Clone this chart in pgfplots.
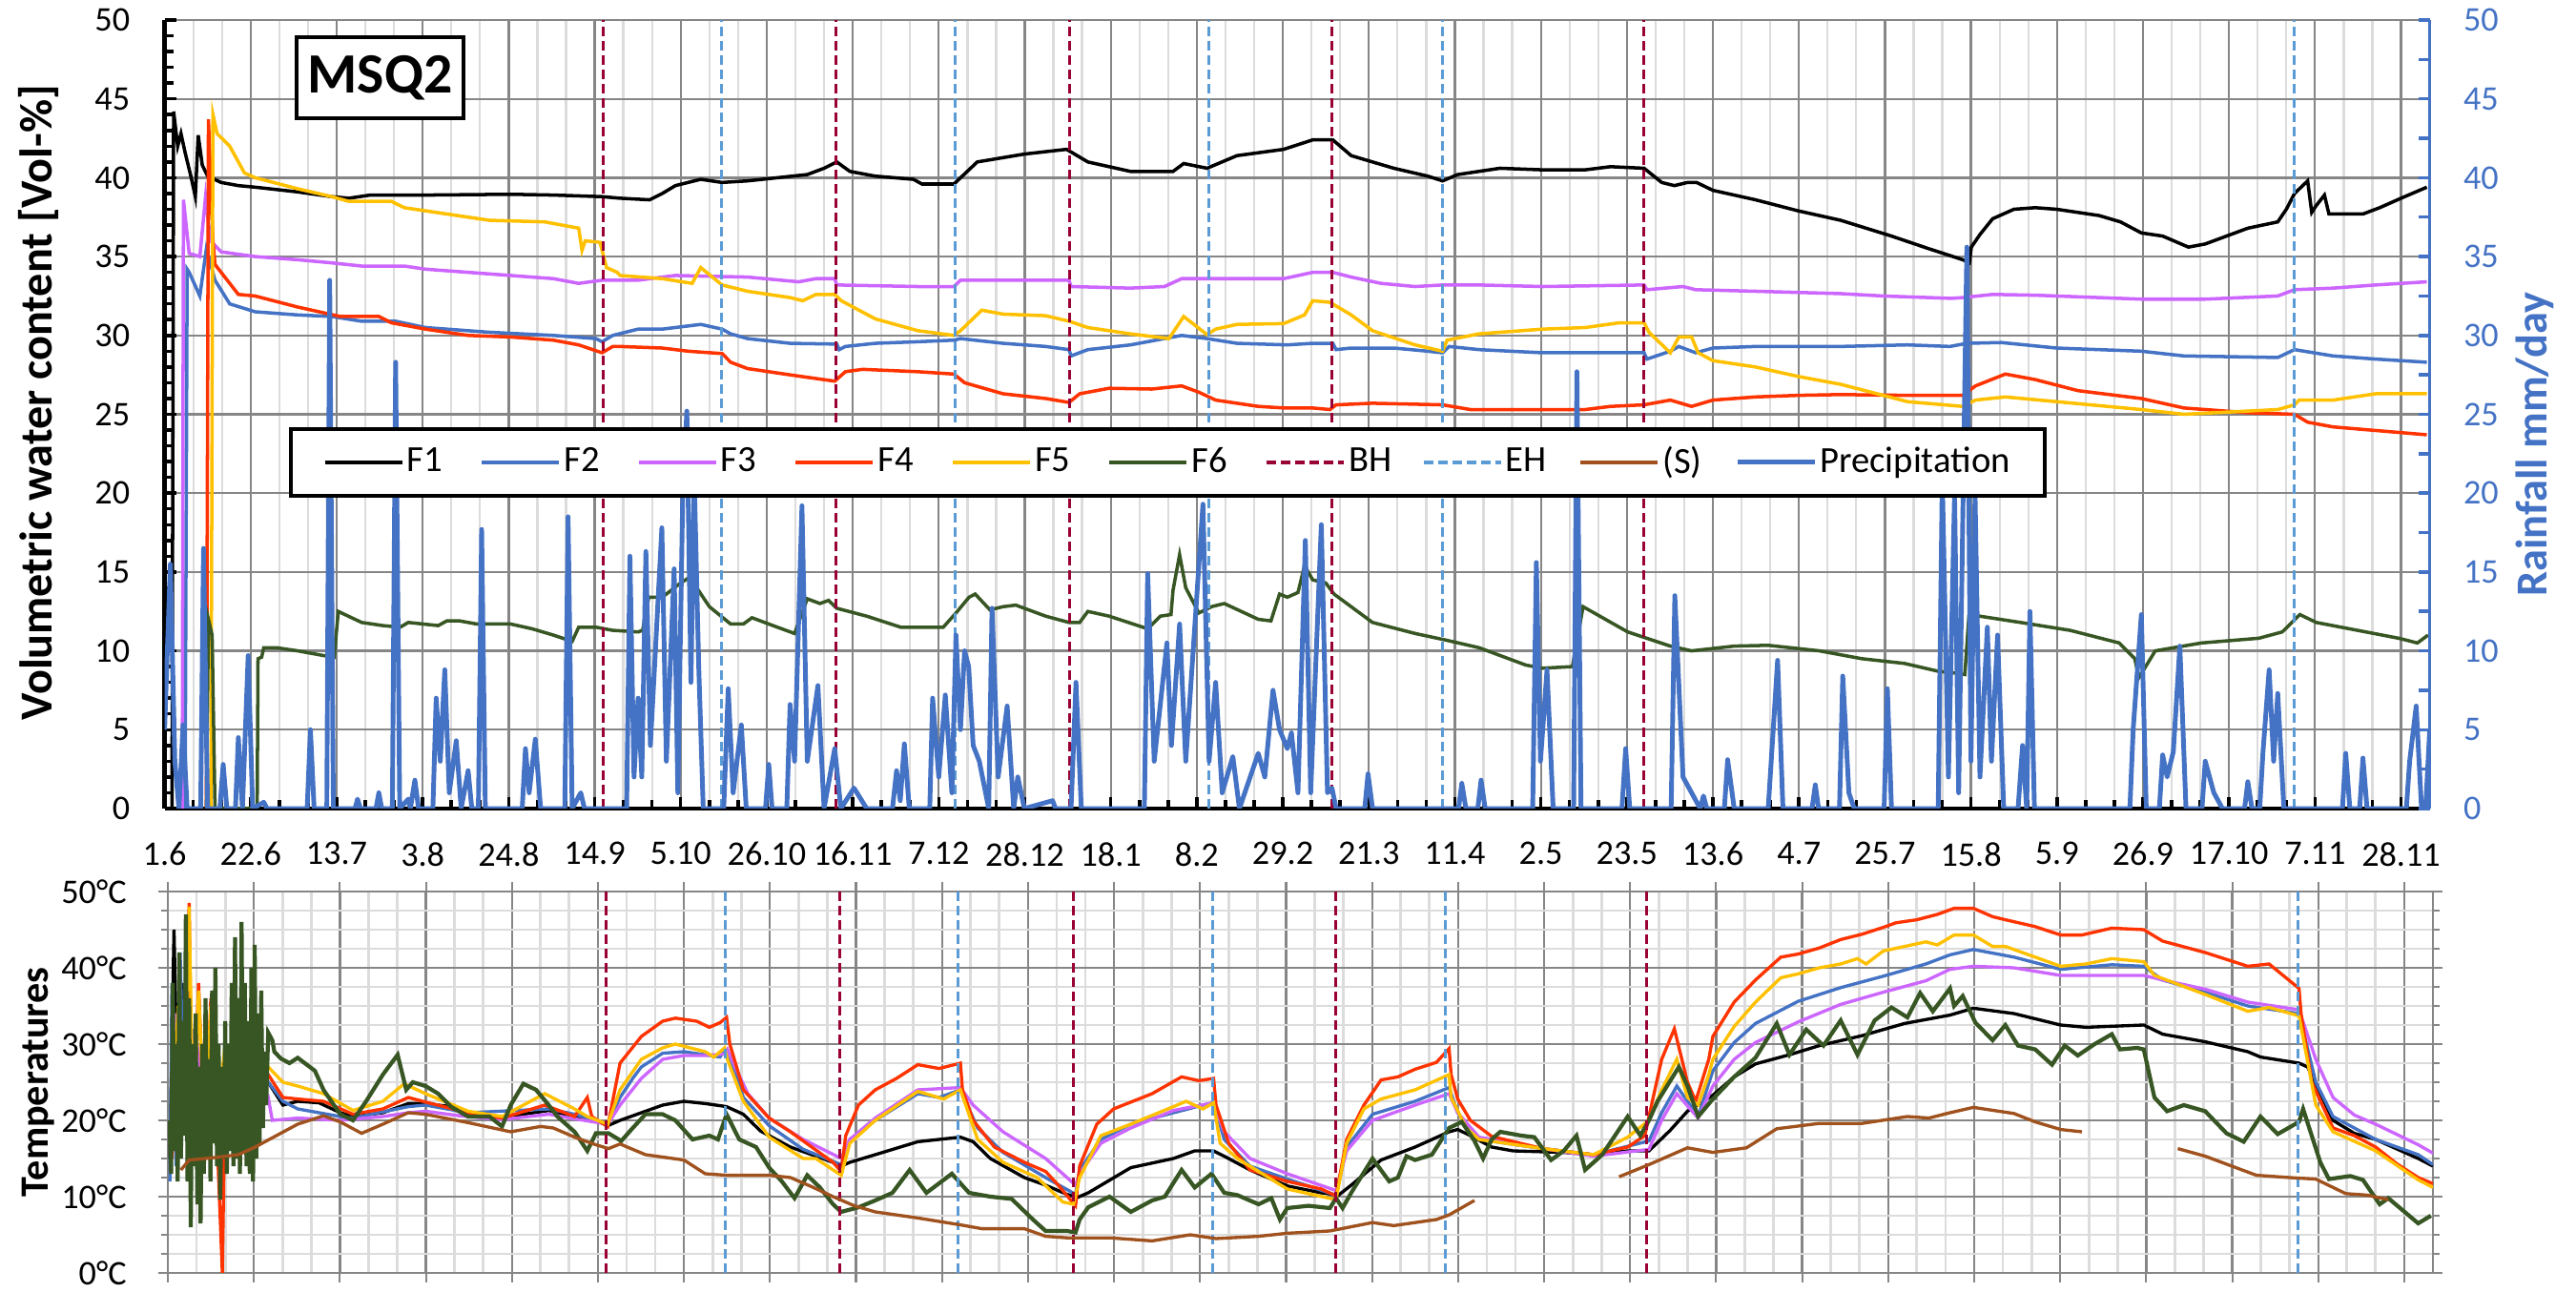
\documentclass[border=0pt]{standalone}
\usepackage{pgfplots}
\pgfplotsset{compat=1.18}
\usepackage{fontspec}
\setmainfont{Carlito}
\definecolor{cFb}{HTML}{4472C4}
\definecolor{cFc}{HTML}{CC66FF}
\definecolor{cFd}{HTML}{FF3300}
\definecolor{cFe}{HTML}{FFC000}
\definecolor{cFf}{HTML}{375623}
\definecolor{cBH}{HTML}{990033}
\definecolor{cEH}{HTML}{5B9BD5}
\definecolor{cS}{HTML}{A0521E}
\definecolor{gmaj}{HTML}{868686}
\definecolor{gmin}{HTML}{DCDCDC}
\tikzset{
 bhstyle/.style={cBH, line width=0.85pt, dash pattern=on 1mm off 0.5mm},
 ehstyle/.style={cEH, line width=0.85pt, dash pattern=on 1mm off 0.5mm},
}
\pgfplotsset{
 dayaxis/.style={scale only axis, anchor=south west, width=237.5mm, xmin=0, xmax=553, ymin=0, ymax=50,
   xtick={0,21,...,546}, minor x tick num=2, unbounded coords=jump,
   /pgf/number format/assume math mode=true,
   tick label style={font=\fontsize{10.3}{12}\selectfont}},
}
\begin{document}
\begin{tikzpicture}
\useasboundingbox (0,0) rectangle (270.1mm,135.5mm);
% ---------------- top panel (water content) ----------------
\begin{axis}[dayaxis, at={(17.26mm,50.7mm)}, height=82.7mm,
  axis x line*=bottom, axis y line*=left,
  axis line style={black, line width=1.3pt},
  xticklabels={1.6,22.6,13.7,3.8,24.8,14.9,5.10,26.10,16.11,7.12,28.12,18.1,8.2,29.2,21.3,11.4,2.5,23.5,13.6,4.7,25.7,15.8,5.9,26.9,17.10,7.11,28.11},
  xticklabel style={yshift=-2.3mm},
  ytick={0,5,...,50}, minor y tick num=4, yticklabel style={xshift=-2.4mm},
  xmajorgrids, xminorgrids, ymajorgrids,
  major grid style={gmaj, line width=0.65pt}, minor grid style={gmin, line width=0.65pt},
  tick align=inside, major tick length=1.2mm, minor tick length=0.9mm,
  tick style={black, line width=1pt},
]
\addplot[black, line width=1pt] coordinates {(1.8,0) (2.2,44.2) (3.2,42) (4,42.8) (5,41.6) (6.5,40) (7.5,38.8) (8.2,42.7) (9.2,40.8) (10.5,40.1) (13.8,39.7) (18,39.5) (22.1,39.4) (32.5,39.1) (40.8,38.8) (45,38.7) (50.2,38.9) (63.7,38.9) (84.5,38.95) (94.9,38.9) (106.8,38.8) (111.2,38.7) (118.4,38.6) (121.5,39) (124.7,39.5) (130.9,39.9) (136.1,39.7) (142.3,39.8) (156.9,40.2) (161,40.6) (164.1,41) (167.3,40.4) (173.5,40.1) (182.8,39.9) (184.9,39.6) (192.7,39.6) (198.4,41) (209.9,41.5) (220.2,41.8) (225.4,41) (235.8,40.4) (246.2,40.4) (248.8,40.9) (254.5,40.6) (261.8,41.4) (273.2,41.8) (280.3,42.4) (285.2,42.4) (289.7,41.4) (300.1,40.6) (308.4,40.1) (312,39.8) (315.7,40.2) (326,40.6) (336.4,40.5) (346.8,40.5) (353,40.7) (361.2,40.6) (365.5,39.7) (368.6,39.5) (371.8,39.7) (374,39.7) (378,39.2) (388.4,38.6) (398.8,37.9) (409.2,37.3) (421.6,36.3) (430.7,35.5) (439,34.8) (440.6,34.6) (441.1,35.6) (443.2,36.4) (446.3,37.4) (451.5,38) (456.7,38.1) (461.9,38) (472.3,37.6) (477.5,37.2) (482.6,36.5) (487.8,36.3) (494.1,35.6) (498.2,35.8) (508.6,36.8) (515.9,37.2) (518,38) (520,39) (523.2,39.8) (524.2,37.8) (525.2,38.2) (527.3,38.9) (528.4,37.7) (536.7,37.7) (540.8,38.1) (546,38.7) (552.3,39.4)};
\addplot[cFb, line width=1pt] coordinates {(5,0) (5.5,34.2) (6,34) (8.6,32.5) (10.2,35.5) (12.3,33.5) (15.9,32) (22.1,31.5) (32.5,31.3) (40.8,31.2) (48.1,30.9) (56.4,30.9) (63.7,30.5) (79.3,30.2) (94.9,30) (105.3,29.8) (106.8,29.6) (109.4,30) (115.6,30.4) (121.5,30.4) (127.8,30.6) (130.9,30.7) (136.1,30.4) (138.2,30.1) (142.3,29.8) (152.7,29.5) (164.1,29.45) (164.7,29.1) (166.2,29.3) (173.5,29.5) (183.9,29.6) (192.7,29.7) (194.3,29.8) (204.7,29.5) (215.1,29.3) (220.8,29.1) (221.3,28.7) (225.4,29.1) (235.8,29.4) (244.1,29.8) (248.3,30) (254.5,29.8) (261.8,29.5) (274.1,29.4) (280.3,29.5) (285.2,29.5) (286,29.1) (289.7,29.2) (300.1,29.2) (308.4,29) (312,28.9) (313.6,29.3) (320.9,29.1) (336.4,28.9) (346.8,28.9) (361.2,28.9) (361.9,28.5) (367.6,29) (369.7,29.3) (373.8,28.9) (378,29.2) (388.4,29.3) (409.2,29.3) (425.5,29.4) (435.9,29.3) (440,29.5) (448.4,29.55) (461.9,29.2) (482.6,29) (493,28.7) (515.9,28.6) (520,29.1) (529.4,28.7) (539.8,28.5) (552.3,28.3)};
\addplot[cFc, line width=1pt] coordinates {(4.3,0) (4.6,38.6) (6,35.2) (8.6,35) (10,38.8) (11.2,36) (13.8,35.3) (22.1,35) (32.5,34.8) (40.8,34.6) (48.1,34.4) (58.5,34.4) (63.7,34.2) (79.3,33.9) (94.9,33.6) (101.1,33.3) (106.8,33.5) (115.6,33.5) (121.5,33.7) (124.7,33.8) (142.3,33.7) (154.8,33.4) (159,33.6) (163.6,33.6) (164.1,33.2) (183.9,33.1) (192.7,33.1) (194.3,33.5) (220.8,33.5) (221.3,33.1) (235.8,33) (244.1,33.1) (248.3,33.6) (273.2,33.6) (280.3,34) (285.2,34) (289.7,33.7) (297,33.3) (305.3,33.1) (312,33.2) (320.9,33.2) (336.4,33.1) (361.2,33.2) (361.9,32.9) (370.7,33.1) (373.8,32.9) (388.4,32.8) (409.2,32.65) (419.6,32.5) (436.2,32.35) (439,32.4) (446.3,32.6) (456.7,32.55) (482.6,32.3) (498.2,32.3) (515.9,32.5) (520,32.9) (529.4,33) (539.8,33.2) (552.3,33.4)};
\addplot[cFd, line width=1pt] coordinates {(10.2,0) (10.7,43.7) (11.8,36) (12.3,34.5) (15.9,33.3) (18,32.6) (22.1,32.5) (32.5,31.8) (42.9,31.2) (52.3,31.2) (55.4,30.8) (63.7,30.4) (74.1,30) (84.5,29.9) (94.9,29.7) (101.1,29.4) (106.8,28.9) (109.4,29.3) (111.2,29.3) (121.5,29.2) (127.8,29) (136.1,28.85) (138.2,28.3) (142.3,27.9) (152.7,27.5) (163.6,27.1) (166.2,27.7) (170.4,27.85) (183.9,27.7) (192.7,27.55) (195.3,27) (204.7,26.3) (215.1,26) (220.8,25.75) (223.4,26.3) (230.6,26.65) (241,26.6) (248.3,26.8) (252.5,26.4) (256.6,25.9) (267,25.5) (273.2,25.4) (280.3,25.4) (284.5,25.3) (286,25.6) (294.9,25.7) (312,25.6) (318.8,25.3) (336.4,25.3) (346.8,25.3) (353,25.5) (361.2,25.6) (367.6,25.9) (372.8,25.5) (378,25.9) (388.4,26.1) (398.8,26.2) (409.2,26.25) (425.5,26.2) (439,26.2) (442.1,26.8) (449.4,27.55) (456.7,27.2) (467.1,26.5) (482.6,26) (493,25.4) (508.6,25.1) (520,25) (523.2,24.5) (529.4,24.2) (552.3,23.7)};
\addplot[cFe, line width=1pt] coordinates {(11.3,0) (11.8,44) (12.8,42.8) (15.9,42) (19.5,40.3) (22.1,40) (32.5,39.3) (40.8,38.8) (45,38.5) (55.4,38.5) (58.5,38.1) (68.9,37.7) (79.3,37.3) (92.8,37.2) (101.1,36.8) (101.9,35.4) (102.7,36) (106.3,35.9) (107.9,34.3) (110.5,34) (111.2,33.8) (121.5,33.6) (128.8,33.3) (130.9,34.3) (136.1,33.2) (142.3,32.8) (152.7,32.4) (155.8,32.2) (159,32.6) (163.6,32.6) (165.2,32.2) (173.5,31.05) (183.9,30.3) (192.7,30) (194.3,30.3) (199.5,31.6) (204.7,31.35) (215.1,31.25) (220.8,30.9) (225.4,30.5) (235.8,30.1) (245.2,29.8) (248.8,31.2) (254.5,30.05) (256.6,30.4) (261.8,30.7) (273.2,30.75) (278.3,31.3) (280.3,32.2) (284.5,32.1) (289.7,31.3) (294.9,30.3) (305.3,29.4) (312,29) (313.1,29.7) (320.9,30.1) (336.4,30.4) (346.8,30.5) (355.1,30.8) (361.2,30.8) (362.4,30.2) (367.6,28.9) (369.7,29.9) (372.8,29.9) (374.4,28.9) (378,28.4) (388.4,28) (398.8,27.4) (409.2,26.9) (419.6,26.2) (425.5,25.8) (439,25.5) (442.1,25.9) (449.4,26.1) (461.9,25.8) (482.6,25.3) (493,25) (515.9,25.3) (520,25.6) (521.1,25.9) (529.4,25.9) (539.8,26.3) (552.3,26.3)};
\addplot[cFf, line width=1pt] coordinates {(10.2,0) (10.7,12) (11.6,11) (12.3,0) (22.6,0) (22.8,9.5) (23.7,9.6) (24.2,10.2) (27.3,10.2) (32.5,10) (38.8,9.7) (41.4,9.6) (42.4,12.5) (48.1,11.8) (53.3,11.6) (57.5,11.5) (59.5,11.8) (66.8,11.6) (68.9,11.9) (72,11.9) (76.2,11.7) (84.5,11.7) (89.7,11.4) (94.9,11) (99.5,10.6) (101.1,11.5) (105.3,11.5) (109.4,11.3) (115.6,11.2) (116.7,11.3) (118.2,13.4) (121.5,13.4) (125.7,14.25) (129.3,14.85) (129.9,14) (133,12.8) (138.2,11.7) (141.3,11.7) (143.4,12.1) (147.5,11.7) (153.8,11.1) (156.9,13.3) (160,13) (162.1,13.2) (164.1,12.7) (171.4,12.2) (179.7,11.5) (190.1,11.5) (193.2,12.4) (196.4,13.4) (197.9,13.6) (201.5,12.6) (204.7,12.8) (207.8,12.9) (215.1,12.2) (220.8,11.8) (223.4,11.8) (225.4,12.5) (230.6,12.2) (240,11.4) (243.1,12.2) (245.7,12.3) (246.2,13.85) (247.8,16.1) (249.3,14) (252.5,12.4) (255.6,12.8) (258.7,13) (267,12) (270.1,11.9) (272.2,13.6) (274.1,13.4) (276.7,13.7) (278.3,15.4) (280.3,14.5) (283.5,14.3) (285.5,13.6) (294.9,11.8) (305.3,11.1) (312.5,10.7) (320.9,10.2) (332.3,9.1) (336.4,8.9) (343.7,9) (346.3,12.8) (357.2,11.2) (367.6,10.3) (372.8,10) (383.2,10.3) (391.5,10.35) (404,10) (414.4,9.5) (424.8,9.2) (433.1,8.7) (437,8.6) (439.5,8.5) (440.5,12.2) (443.1,12.2) (453.1,11.8) (465.2,11.3) (477.2,10.5) (481,9.5) (482,8.3) (486,10) (497.3,10.5) (511.3,10.8) (517,11.2) (521.3,12.3) (525.3,11.8) (537.4,11.2) (545.4,10.8) (550,10.5) (552.6,11)};
\addplot[bhstyle] coordinates {(107,0)(107,50)(107,nan)(164,0)(164,50)(164,nan)(221,0)(221,50)(221,nan)(285,0)(285,50)(285,nan)(361,0)(361,50)};
\addplot[ehstyle] coordinates {(136,0)(136,50)(136,nan)(193,0)(193,50)(193,nan)(255,0)(255,50)(255,nan)(312,0)(312,50)(312,nan)(520,0)(520,50)};
\end{axis}
% ---------------- right axis: precipitation + legend ----------------
\begin{axis}[dayaxis, at={(17.26mm,50.7mm)}, height=82.7mm,
  axis x line=none, axis y line*=right,
  axis line style={cFb, line width=1pt},
  ytick={0,5,...,50}, minor y tick num=1,
  yticklabel style={cFb, xshift=2.3mm},
  tick align=inside, major tick length=1.2mm, minor tick length=1.2mm,
  tick style={cFb, line width=1pt},
  legend columns=10,
  legend image code/.code={\draw[#1] (0mm,0mm) -- (8.1mm,0mm);},
  legend style={at={(0.4429,0.439)}, anchor=center, draw=black, line width=1.1pt, fill=white,
    font=\fontsize{11}{12}\selectfont, inner xsep=3.3mm, inner ysep=1.5mm,
    nodes={inner sep=0.3mm}},
]
\addlegendimage{black, line width=1.3pt}\addlegendentry{\makebox[7.3mm][l]{F1}}
\addlegendimage{cFb, line width=1.3pt}\addlegendentry{\makebox[7.3mm][l]{F2}}
\addlegendimage{cFc, line width=1.3pt}\addlegendentry{\makebox[7.3mm][l]{F3}}
\addlegendimage{cFd, line width=1.3pt}\addlegendentry{\makebox[7.3mm][l]{F4}}
\addlegendimage{cFe, line width=1.3pt}\addlegendentry{\makebox[7.3mm][l]{F5}}
\addlegendimage{cFf, line width=1.3pt}\addlegendentry{\makebox[7.3mm][l]{F6}}
\addlegendimage{cBH, line width=1.3pt, dash pattern=on 1mm off 0.5mm}\addlegendentry{\makebox[7.3mm][l]{BH}}
\addlegendimage{cEH, line width=1.3pt, dash pattern=on 1mm off 0.5mm}\addlegendentry{\makebox[7.3mm][l]{EH}}
\addlegendimage{cS, line width=1.3pt}\addlegendentry{\makebox[7.3mm][l]{(S)}}
\addplot[cFb, line width=1.4pt, line join=round] coordinates {(0,5) (1.4,15.5) (2.5,3) (3.5,0) (4.5,5.3) (5.5,0) (8.8,0) (9.5,16.5) (10.5,0) (13.5,0) (14.3,2.8) (15.2,0) (17.3,0) (18,4.5) (19,0) (20.4,9.7) (21.5,0) (24.2,0.4) (25,0) (34.8,0) (35.6,5) (36.5,0) (39.6,0) (40.3,33.5) (41.2,0) (46.5,0) (47.1,0.6) (47.8,0) (51.6,0) (52.3,1) (53,0) (55.6,0) (56.4,28.3) (57.4,0) (59.5,0.6) (60,0) (61.1,1.8) (62,0) (65.5,0) (66.3,7) (67.3,3) (68.4,8.8) (69.5,1) (71.2,4.3) (72.4,0) (74.1,2.4) (75,0) (76.6,0) (77.4,17.7) (78.3,0) (87.3,0) (88.1,3.8) (89,1) (90.5,4.4) (91.8,0) (97.7,0) (98.5,18.5) (99.5,0) (101.6,1) (102.5,0) (112.8,0) (113.6,16) (114.6,2) (115.6,7) (116.5,2) (117.5,16.3) (118.6,4) (121.4,17.8) (122.5,3) (124.4,15.2) (125.3,1) (126.5,20) (127.5,25.2) (128.5,8) (129.3,21) (130.4,9) (131.5,0) (136.5,0) (137.6,7.6) (138.8,1) (140.8,5.3) (142,0) (146.7,0) (147.5,2.8) (148.3,0) (151.9,0) (152.7,6.6) (153.8,3) (155.6,19.2) (156.9,3) (159.5,7.8) (161,0) (163.6,3.8) (165.1,0) (168.3,1.3) (169.5,0.8) (171.4,0) (177.7,0) (178.7,2.4) (179.6,0.5) (180.6,4.1) (181.8,0) (186.8,0) (187.5,7) (189,2) (190.6,7.2) (192.2,1) (193.2,11) (194.3,5) (195.3,10) (196.3,9) (197.4,4) (198.9,3) (201.2,0) (202,12.7) (203.5,2) (205.7,6.5) (207.3,0) (208.3,2) (209.9,0) (216.8,0.5) (217.5,0) (221.3,0) (222.5,8) (223.8,0) (239.2,0) (240,14.9) (241.6,3) (244.7,10.5) (245.8,4) (247.8,11.7) (249.3,3) (253.5,19.3) (255,3) (256.6,8) (258.2,1) (260.8,3.3) (262.4,0) (267,3.5) (268.6,2) (270.6,7.5) (272.2,5) (274.1,3.8) (275.1,4.8) (276.7,1) (278.5,17) (279.8,1) (282.4,18) (283.9,1) (285,1.3) (286,0) (293,0) (293.8,2.2) (294.9,0) (315.9,0) (316.7,1.6) (317.7,0) (320.6,0) (321.4,1.8) (322.4,0) (334,0) (334.9,15.6) (335.9,3) (337.5,8.8) (339,0) (344,0) (344.8,27.7) (345.8,0) (355.8,0) (356.7,3.8) (357.7,0) (367.8,0) (368.7,13.5) (370.7,2) (374.9,0) (375.7,0.8) (376.5,0) (380.8,0) (381.6,3.1) (383.2,0) (391.5,0) (393.8,9.4) (395.1,0) (402.2,0) (403,1.5) (403.8,0) (408.9,0) (409.7,8.4) (411.2,1) (412.5,0) (419.8,0) (420.6,7.6) (421.6,0) (433,0) (434,21) (435.5,2) (437,20) (438,1) (440,35.6) (441,3) (442,20) (443.2,2) (445,11.5) (446,3) (447.5,11) (449,0) (452.5,0) (453.6,4) (454.6,0) (455.4,12.5) (456.5,0) (479.8,0) (480.6,5) (482.6,12.3) (483.8,0) (487,0) (487.8,3.4) (488.9,2) (490.4,3.6) (492,10.3) (493.5,0) (497.4,0) (498.2,3) (500.3,1) (502.4,0) (507.8,0) (508.6,1.7) (509.6,0) (511.5,0) (512.3,3.6) (513.8,8.8) (514.9,3) (515.9,7.3) (517.4,0) (531.7,0) (532.5,3.5) (533.5,0) (535.9,0) (536.7,3.2) (537.7,0) (547.3,0) (548.1,3) (549.7,6.5) (551,0) (552,0) (553,5)};
\addlegendentry{Precipitation}
\end{axis}
% ---------------- bottom panel (temperatures) ----------------
\begin{axis}[dayaxis, at={(17.6mm,2.0mm)}, height=40mm,
  xticklabels={},
  ytick={0,10,...,50}, minor y tick num=3,
  yticklabel={\pgfmathprintnumber{\tick}°C}, yticklabel style={xshift=-2.1mm},
  grid=both, major grid style={gmaj, line width=0.65pt}, minor grid style={gmin, line width=0.8pt},
  axis line style={gmaj, line width=0.7pt},
  tick align=outside, major tick length=1mm, minor tick length=0.7mm,
  tick style={gmaj, line width=0.6pt}, minor x tick style={draw=none},
]
\addplot[black, line width=0.95pt] coordinates {(0.5,15) (1.5,45) (2.5,20) (3.5,38) (5,18) (7,30) (9,17) (11,28) (13,18) (15,30) (17,19) (19,28) (21,20) (23,26) (24.5,25) (28.1,22) (31.7,22.5) (36.9,22.3) (42.1,21) (45.2,20.5) (52.5,21) (58.7,22.2) (62.9,22.2) (69.1,21.8) (73.3,21) (81.6,20.3) (86.8,20.8) (93,21.3) (99.3,20.5) (104.5,20) (107.4,19.3) (110.4,20) (115.6,21) (120.8,22) (126,22.5) (131.2,22.2) (136.4,21.8) (140.5,20.8) (144.7,18.6) (152,16.5) (157.2,15.5) (162.4,14.5) (164.4,14) (166.5,14.5) (172.7,15.5) (183.1,17.2) (188.3,17.5) (193.5,17.8) (196.6,17.2) (200.8,15) (209.1,12.5) (214.3,11.5) (219.5,10.3) (222.1,9.9) (224.7,10.5) (235.1,13.8) (245.5,15) (250.7,16) (255.3,16) (257.9,15.3) (264.2,13.5) (273.3,11.4) (281.6,10.5) (285.8,10.2) (288.9,11.5) (296.2,14.8) (304.5,16.5) (312.8,18.5) (314.9,18.8) (318,18) (323.2,16.5) (328.4,16) (340.8,15.8) (348.1,15.5) (356.4,16) (361.6,16) (366.8,18.7) (371,21.2) (377.2,23.3) (382.4,25.7) (387.6,27.4) (395.9,28.6) (403.2,29.8) (413.6,31.1) (424,32.7) (435.1,33.8) (440.8,34.7) (450.7,34) (462.1,32.5) (468.3,32.2) (482.4,32.5) (487,31.3) (497.4,30.3) (507.8,29) (510.9,28.3) (520.3,27.5) (522.4,27) (528.6,20) (533.8,18.3) (539,17.5) (549.4,15) (553,14)};
\addplot[cFb, line width=0.95pt] coordinates {(0.5,12) (1,38) (2,14) (3,42) (4,20) (6,32) (8,16) (10,30) (12,18) (14,29) (16,19) (18,30) (20,20) (22,27) (24.5,25) (28.1,22.5) (31.7,21.5) (42.1,20.5) (45.2,20.3) (58.7,21.8) (62.9,22) (73.3,21) (93,21.5) (99.3,20.8) (107.4,19.5) (110.4,23) (113.5,25.5) (115.6,27) (120.8,28.8) (126,29) (131.2,28.6) (134.8,28.3) (135.9,29.2) (137.4,28) (140.5,23) (146.8,19.3) (155.1,16.2) (164.4,14.2) (166.5,17.5) (172.7,20) (183.1,23.5) (188.3,23) (193.5,24) (197.7,19) (203.9,15.8) (214.3,12.5) (221.6,10.3) (222.6,13.5) (227.8,17.5) (235.1,19.5) (245.5,21) (252.7,22) (255.3,22.3) (257.9,17.5) (264.2,14) (273.3,12.3) (285.2,10.2) (287.8,16.5) (294.1,20.8) (304.5,22.5) (312.8,24.3) (314.9,21) (320.1,17.5) (335.6,16.3) (348.1,15.5) (361.6,17.3) (364.7,21) (368.4,24.5) (373.6,20.5) (377.2,26.5) (382.4,30.2) (387.6,32.7) (398,35.6) (408.4,37.4) (418.8,38.9) (429.2,40.5) (435.1,41.7) (440.8,42.4) (450.7,41.4) (462.1,39.8) (474.6,40.4) (482.4,40.2) (487,38.4) (497.4,36.8) (507.8,35) (520.3,34) (524.4,25) (528.6,20.5) (539,17.5) (549.4,15.5) (553,14.2)};
\addplot[cFc, line width=0.95pt] coordinates {(0.8,25) (2,34) (3.5,18) (5,40) (6.5,22) (8,30) (10,19) (12,28) (14,20) (16,28) (18,19) (20,27) (22,21) (24.5,23) (25.5,20) (31.7,20.3) (42.1,20) (52.5,20.5) (58.7,21) (62.9,21.2) (71.2,20.6) (81.6,20.1) (93,20.8) (99.3,20.2) (107.4,19.5) (110.4,22) (115.6,25.5) (120.8,28) (126,28.5) (131.2,28.5) (135.9,28.7) (136.6,29.3) (138.5,27) (141.6,23.5) (146.8,20.3) (155.1,17.5) (164.4,15) (166.5,17.5) (172.7,20.3) (183.1,24) (193.5,24.3) (196.6,22) (203.9,18.5) (214.3,15) (221.6,11.5) (222.6,13) (227.8,17) (235.1,19) (245.5,21.3) (255.3,22.3) (257.9,18.5) (264.2,15) (273.3,13) (285.2,10.8) (287.8,16) (294.1,20) (304.5,22) (312.8,23.5) (314.9,21) (320.1,17.8) (335.6,16.3) (348.1,15.3) (361.6,16.2) (364.7,20) (368.4,23.5) (373.6,20.3) (377.2,24.5) (382.4,28) (387.6,30.2) (398,32.9) (408.4,35.2) (418.8,36.8) (429.2,38.3) (435.1,39.8) (440.8,40.2) (450.7,40) (462.1,39) (474.6,39) (482.4,39) (487,38.4) (497.4,37.2) (507.8,35.5) (520.3,34.5) (524.4,28) (528.6,23) (533.8,20.7) (539,19.5) (549.4,16.8) (553,15.7)};
\addplot[cFd, line width=0.95pt] coordinates {(1,15) (2.5,30) (4,20) (5.2,48.5) (6,15) (7.5,38) (9,16) (10.5,36) (12,18) (13.3,0) (14,25) (16,20) (18,30) (20,20) (22,28) (24.5,26) (28.1,23) (31.7,22.8) (38,22.5) (45.2,20.8) (52.5,21.5) (58.7,23) (62.9,22.4) (73.3,21) (81.6,20.3) (92,22) (99.3,20.5) (102.4,23) (103.5,20.5) (107.4,19.2) (110.4,27.5) (115.6,31) (120.8,33) (123.9,33.4) (129.1,33) (132.2,32.2) (134.8,32.8) (136.4,33.5) (137.2,30) (140.5,24) (146.8,20.3) (152,18.5) (157.2,16.5) (162.4,14.5) (164.4,13.3) (165.5,18) (168.6,22) (172.7,24) (177.9,25.5) (183.1,27.3) (188.3,26.8) (193.5,27.5) (194,24) (196.6,20) (201.8,16.5) (209.1,14.5) (214.3,13.3) (217.4,11.5) (221.6,8.8) (222.6,14) (226.8,19.5) (230.9,21.5) (240.3,23.5) (247.5,25.7) (251.7,25.2) (255.3,25.5) (255.9,22) (259,17) (264.2,13.5) (273.3,12) (281.6,11) (285.2,10.1) (287.8,17.5) (292,22) (296.2,25.3) (300.3,25.7) (304.5,26.7) (309.7,27.6) (312.8,29.4) (313.3,26) (314.9,22.8) (318,20) (323.2,17.9) (335.6,16.3) (348.1,15.5) (356.4,16.5) (360.6,18) (361.6,20.5) (364.7,28) (367.8,32) (371,25) (373,22.5) (376.2,28) (377.2,31) (382.4,35.5) (387.6,38.4) (393.8,41.4) (398,41.8) (403.2,42.6) (408.4,43.7) (413.6,44.4) (418.8,45.3) (421.9,45.9) (427,46.3) (432,47) (436.1,47.8) (440.8,47.8) (445.5,46.7) (448.6,46.3) (455.9,45.4) (462.1,44.3) (467.3,44.3) (474.6,45.2) (482.4,45) (487,43.5) (497.4,42) (507.8,40.2) (513,40.5) (520.3,37.3) (520.8,34) (523.4,25) (528.6,19) (533.8,18) (539,16.5) (544.2,14.3) (549.4,12.5) (553,11.7)};
\addplot[cFe, line width=0.95pt] coordinates {(1,18) (2.5,35) (4,22) (5.2,48) (6.2,18) (7.5,37) (9,18) (10.5,35) (12,20) (14,30) (16,21) (18,31) (20,22) (22,29) (24.5,27) (28.1,25) (31.7,24.5) (38,23.5) (45.2,21.3) (52.5,22.5) (57.7,24.8) (62.9,23.5) (73.3,21.2) (81.6,20.5) (92,23.5) (99.3,21.5) (102.4,20.5) (107.4,19.5) (110.4,24) (115.6,28) (120.8,29.5) (123.9,30) (131.2,29) (133.3,28.3) (135.9,29.5) (136.6,28) (140.5,22.5) (146.8,17.8) (155.1,15) (158.2,15) (164.4,12.8) (166.5,17) (172.7,20) (183.1,23.8) (189.4,22.8) (193.5,24) (197.7,17.5) (203.9,14.5) (212.2,12.5) (218.5,9.3) (221.1,9) (222.6,12.5) (227.8,18) (235.1,19.5) (245.5,21.8) (248.6,22.5) (252.7,21.5) (255.3,22.3) (256.9,17) (261.1,15) (273.3,11) (285.2,9.6) (287.8,17) (292,21.5) (296.2,22.8) (304.5,24) (312.8,26) (313.3,23) (317,19) (320.1,17.5) (335.6,16.3) (348.1,15.5) (356.4,17.8) (361.6,20) (364.7,24) (368.4,28) (371,23) (373.6,22) (376.2,26) (377.2,28) (382.4,32.3) (387.6,35.5) (393.8,38.7) (398,39.2) (403.2,40) (408.4,40.5) (412.5,41.2) (414.6,40.5) (418.8,42.2) (424,42.8) (429.2,43.4) (432,43) (436.1,44.3) (440.8,44.3) (445.5,42.8) (448.6,42.8) (455.9,41.4) (462.1,40.2) (468.3,40.5) (474.6,41.2) (482.4,40.8) (485,39) (497.4,36.5) (507.8,34.3) (513,34.8) (520.3,33.7) (524.4,22) (528.6,18.5) (539,16) (549.4,12.2) (553,11.2)};
\addplot[cFf, line width=1.2pt] coordinates {(0.4,20) (0.8,13) (1.2,38) (1.6,16) (2.0,30) (2.4,12) (2.8,42) (3.2,15) (3.6,33) (4.0,18) (4.4,47) (4.8,12) (5.2,36) (5.6,6) (6.0,30) (6.4,14) (6.8,34) (7.2,9) (7.6,27) (8.0,6.5) (8.4,30) (8.8,13) (9.2,36) (9.6,15) (10.0,28) (10.4,12) (10.8,37) (11.2,17) (11.6,40) (12.0,14) (12.4,30) (12.8,9.6) (13.2,27) (13.6,15) (14.0,33) (14.4,13) (14.8,30) (15.2,16) (15.6,38) (16.0,14) (16.4,44) (16.8,15) (17.2,36) (17.6,13) (18.0,46) (18.4,16) (18.8,38) (19.2,14) (19.6,33) (20.0,13) (20.4,40) (20.8,12) (21.2,43) (21.6,15) (22.0,34) (22.4,17) (22.8,37) (23.2,19) (23.6,29) (24.0,22) (24.5,31.5) (25.5,30.5) (26,29) (27.6,28.1) (29.7,27.5) (31.7,28.2) (35.9,26.5) (38,24) (42.1,20.8) (45.2,20) (48.4,22.5) (52.5,26) (56.1,28.6) (58.2,24) (59.8,25) (62.9,24.5) (66,23.5) (69.1,21.8) (73.3,20.5) (78.5,20.5) (81.6,19.2) (83.7,22) (86.8,24.8) (89.9,24) (93,22) (95.1,20.5) (99.3,18.5) (102.4,16) (104.5,18.3) (107.6,18.3) (110.7,17.3) (113.5,19) (116.6,20.8) (120.8,20.8) (123.9,20) (128.1,17.5) (132.2,18) (134.3,17.5) (136.4,20.8) (139.5,17.5) (143.6,16.5) (146.8,13.8) (149.9,12) (153,9.8) (156.1,12.8) (159.2,11.2) (162.4,9) (164.4,8) (168.6,8.6) (172.7,9.5) (176.9,10.5) (181.1,13.5) (185.2,10.5) (191.4,13) (195.6,10.5) (200.8,10) (206,9.7) (211.2,7) (214.3,5.5) (219.5,5.5) (221.6,5.3) (222.6,7) (224.7,8.6) (229.9,10) (235.1,8) (240.3,9.5) (243.4,10) (247.5,13.5) (250.7,11.2) (254.8,13) (257.9,10.5) (261.1,10.2) (266.3,9) (269.4,9.8) (271.5,7) (273.3,8.5) (278.5,8.8) (283.7,8.5) (285.2,9.8) (286.8,8.5) (288.9,10.5) (294.1,15) (298.2,12) (300.3,12.5) (302.4,15.3) (304.5,14.8) (308.6,15.5) (312.8,19) (315.9,19.8) (319,17.3) (321.1,15) (323.2,17.5) (325.3,18.5) (330.4,18) (333.6,17.8) (337.7,14.8) (340.8,16) (343.9,18) (346,13.5) (350.2,15.5) (356.4,20.5) (359.5,18) (361.6,20) (363.7,22.5) (368.9,27) (371,24.5) (373.6,20.5) (377.2,22.8) (382.4,25.7) (387.6,28.2) (392.8,32.7) (395.9,28.6) (400,31.9) (404.2,29.8) (408.4,33.1) (412.5,28.6) (416.7,33.1) (420.8,34.8) (424.7,33.5) (427.8,36.7) (430.9,34.3) (435.1,37.3) (436.1,35) (438.2,36.3) (441.3,32.8) (445.5,30.5) (448.6,32.5) (451.7,29.8) (455.9,29.3) (460,27.3) (463.1,29.8) (466.3,28.5) (470.4,30) (474.6,31.3) (476.6,29.3) (480.8,29.5) (482.4,29.3) (485,23) (488.1,21.2) (492.2,22) (497.4,21.2) (502.6,18.3) (506.8,17.2) (510.9,20.5) (515.1,18.2) (520.3,19.8) (521.3,21.5) (525.5,14.5) (527.6,12.3) (532.8,12.7) (535.9,12.2) (540,9) (542.1,9.8) (549.4,6.5) (552.5,7.5)};
\addplot[bhstyle] coordinates {(107,0)(107,50)(107,nan)(164,0)(164,50)(164,nan)(221,0)(221,50)(221,nan)(285,0)(285,50)(285,nan)(361,0)(361,50)};
\addplot[ehstyle] coordinates {(136,0)(136,50)(136,nan)(193,0)(193,50)(193,nan)(255,0)(255,50)(255,nan)(312,0)(312,50)(312,nan)(520,0)(520,50)};
\addplot[cS, line width=0.95pt] coordinates {(3.2,13.5) (5.2,14.8) (11,15.1) (17.2,15.5) (21.3,16.5) (26.5,18) (31.7,19.5) (38,20.6) (42.1,19.8) (47.3,18.3) (52.5,19.5) (58.7,21) (62.9,20.8) (73.3,19.7) (83.7,18.5) (91,19.2) (94.1,19) (99.3,17.8) (104.5,16.8) (107.6,16.3) (110.4,16.9) (116.6,15.5) (126,14.8) (131.2,13) (136.4,12.8) (146.8,12.8) (152,12.5) (157.2,11.3) (162.4,10) (167.6,8.8) (172.7,8) (183.1,7.2) (193.5,6.3) (198.7,5.8) (209.1,5.8) (214.3,4.8) (219.5,4.6) (229.9,4.6) (240.3,4.2) (249.6,5) (255.9,4.5) (266.3,4.8) (273.3,5.2) (283.7,5.5) (294.1,6.6) (299.3,6.2) (309.7,7) (312.8,7.6) (319,9.5) (319,nan) (354.3,12.6) (361.6,14.2) (371,16.4) (377.2,15.8) (385.4,16.4) (392.8,18.9) (403.2,19.6) (413.6,19.6) (424.7,20.5) (429.9,20.3) (435.1,21) (440.8,21.7) (450.7,20.9) (455.9,19.8) (462.1,18.8) (467.3,18.5) (467.3,nan) (490.7,16.3) (497.4,15.3) (509.9,12.8) (518,12.5) (524.4,12.3) (531.7,10.4) (536.9,10.2) (542.1,9.6)};
\end{axis}
% ---------------- labels ----------------
\node[rotate=90, font=\bfseries\fontsize{13.7}{16}\selectfont] at (4.0mm,93.3mm) {Volumetric water content [Vol-\%]};
\node[rotate=90, font=\bfseries\fontsize{13.2}{16}\selectfont, text=cFb] at (265.8mm,88.9mm) {Rainfall mm/day};
\node[rotate=90, font=\bfseries\fontsize{12}{14}\selectfont] at (4.0mm,22.0mm) {Temperatures};
\node[draw=black, line width=0.35mm, fill=white, minimum width=17.5mm, minimum height=8.5mm, inner sep=0pt, font=\bfseries\fontsize{17}{20}\selectfont] at (39.85mm,127.35mm) {MSQ2};
\end{tikzpicture}
\end{document}
